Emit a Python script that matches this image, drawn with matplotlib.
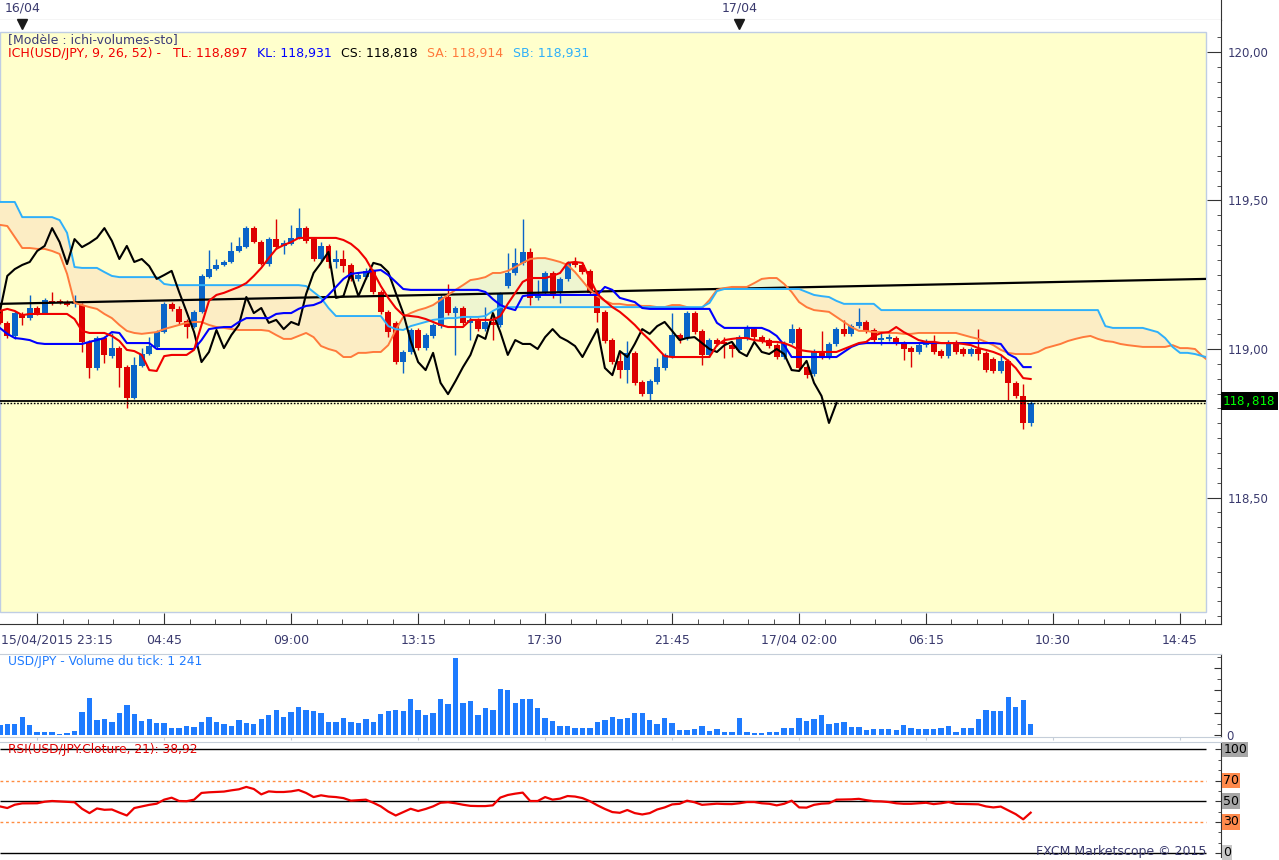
import numpy as np
import matplotlib
matplotlib.use("Agg")
import matplotlib.pyplot as plt
from matplotlib.patches import Rectangle
from matplotlib.transforms import blended_transform_factory as btf

plt.rcParams['font.family'] = ['DejaVu Sans']

W, H = 1279, 860
NAVY = '#3A3A6E'
AXC = '#333333'

# ---------------- data (15-min bars, index 0 = 15/04/2015 23:15) ----------------
time_ticks = [5, 22, 39, 56, 73, 90, 107, 124, 141, 158]
time_labels = ["", "04:45", "09:00", "13:15", "17:30", "21:45", "17/04 02:00", "06:15", "10:30", "14:45"]
first_time_label = "15/04/2015 23:15"
day_ticks = [3, 99]
day_labels = ["16/04", "17/04"]
price_ticks = [118.5, 119.0, 119.5, 120.0]
price_labels = ["118,50", "119,00", "119,50", "120,00"]

opens = [119.131, 119.088, 119.044, 119.118, 119.104, 119.138, 119.121, 119.162, 119.162, 119.158,
         119.152, 119.148, 119.024, 118.936, 119.037, 118.976, 119.003, 118.939, 118.835, 118.943,
         118.983, 119.007, 119.057, 119.152, 119.135, 119.094, 119.074, 119.125, 119.242, 119.269,
         119.283, 119.293, 119.330, 119.343, 119.407, 119.360, 119.286, 119.370, 119.347, 119.354,
         119.374, 119.407, 119.370, 119.303, 119.347, 119.293, 119.303, 119.283, 119.236, 119.242,
         119.263, 119.192, 119.125, 119.088, 118.956, 118.990, 119.064, 119.003, 119.044, 119.077,
         119.175, 119.121, 119.138, 119.088, 119.098, 119.067, 119.091, 119.081, 119.212, 119.256,
         119.290, 119.327, 119.172, 119.192, 119.256, 119.189, 119.236, 119.293, 119.283, 119.263,
         119.189, 119.125, 119.030, 118.960, 118.929, 118.987, 118.889, 118.848, 118.889, 118.936,
         118.976, 119.047, 119.037, 119.121, 119.061, 118.980, 119.030, 119.024, 119.013, 118.997,
         119.037, 119.067, 119.040, 119.030, 119.013, 118.973, 119.020, 119.067, 118.939, 118.916,
         118.993, 118.973, 119.017, 119.067, 119.051, 119.077, 119.091, 119.064, 119.030, 119.034,
         119.037, 119.020, 119.003, 118.990, 119.013, 119.020, 118.993, 118.976, 119.024, 119.000,
         118.983, 119.000, 118.987, 118.966, 118.926, 118.960, 118.886, 118.842, 118.751]
highs = [119.141, 119.094, 119.128, 119.125, 119.182, 119.145, 119.172, 119.192, 119.168, 119.165,
         119.182, 119.155, 119.030, 119.044, 119.044, 119.054, 119.010, 118.946, 118.973, 119.003,
         119.040, 119.064, 119.158, 119.158, 119.145, 119.101, 119.131, 119.253, 119.333, 119.303,
         119.300, 119.360, 119.377, 119.414, 119.414, 119.367, 119.377, 119.438, 119.367, 119.418,
         119.475, 119.414, 119.377, 119.360, 119.354, 119.333, 119.333, 119.290, 119.259, 119.273,
         119.269, 119.199, 119.131, 119.094, 118.997, 119.071, 119.071, 119.054, 119.088, 119.182,
         119.219, 119.145, 119.145, 119.108, 119.104, 119.141, 119.121, 119.192, 119.323, 119.340,
         119.438, 119.340, 119.232, 119.263, 119.263, 119.242, 119.296, 119.310, 119.290, 119.269,
         119.195, 119.131, 119.037, 118.990, 119.027, 118.993, 118.896, 118.899, 118.970, 118.987,
         119.121, 119.054, 119.128, 119.128, 119.067, 119.037, 119.037, 119.040, 119.024, 119.047,
         119.081, 119.074, 119.047, 119.037, 119.020, 119.027, 119.084, 119.074, 118.946, 119.000,
         119.061, 119.024, 119.074, 119.098, 119.084, 119.138, 119.098, 119.071, 119.057, 119.051,
         119.044, 119.027, 119.010, 119.020, 119.034, 119.047, 119.000, 119.030, 119.030, 119.007,
         119.007, 119.067, 118.993, 118.973, 118.980, 118.966, 118.892, 118.882, 118.825]
lows = [119.084, 119.037, 119.034, 119.081, 119.098, 119.114, 119.118, 119.148, 119.152, 119.145,
        119.141, 118.990, 118.902, 118.929, 118.953, 118.970, 118.872, 118.801, 118.832, 118.939,
        118.980, 119.003, 119.054, 119.128, 119.084, 119.037, 119.071, 119.121, 119.239, 119.266,
        119.279, 119.290, 119.327, 119.340, 119.357, 119.283, 119.279, 119.337, 119.320, 119.350,
        119.370, 119.357, 119.296, 119.296, 119.273, 119.273, 119.259, 119.229, 119.229, 119.236,
        119.185, 119.118, 119.040, 118.949, 118.919, 118.983, 118.997, 118.997, 119.037, 119.071,
        119.114, 118.980, 119.081, 119.030, 119.061, 119.061, 119.030, 119.074, 119.205, 119.249,
        119.283, 119.148, 119.165, 119.185, 119.172, 119.155, 119.229, 119.276, 119.253, 119.182,
        119.091, 119.020, 118.949, 118.902, 118.886, 118.879, 118.842, 118.828, 118.882, 118.929,
        118.970, 119.020, 119.030, 119.051, 118.946, 118.973, 119.010, 118.970, 118.973, 118.990,
        119.030, 119.034, 119.020, 119.003, 118.966, 118.966, 119.017, 118.929, 118.902, 118.909,
        118.966, 118.966, 119.010, 119.044, 119.044, 119.071, 119.054, 119.024, 119.013, 119.027,
        119.013, 118.963, 118.939, 118.983, 119.007, 118.983, 118.970, 118.970, 118.983, 118.976,
        118.976, 118.963, 118.923, 118.919, 118.919, 118.828, 118.835, 118.731, 118.741]
closes = [119.088, 119.044, 119.121, 119.104, 119.138, 119.121, 119.165, 119.155, 119.158, 119.148,
          119.158, 119.024, 118.936, 119.037, 118.980, 119.003, 118.936, 118.835, 118.946, 118.983,
          119.010, 119.057, 119.152, 119.135, 119.091, 119.074, 119.125, 119.246, 119.269, 119.283,
          119.293, 119.330, 119.347, 119.407, 119.360, 119.286, 119.370, 119.343, 119.357, 119.374,
          119.407, 119.364, 119.303, 119.347, 119.293, 119.303, 119.279, 119.236, 119.249, 119.263,
          119.192, 119.125, 119.057, 118.956, 118.990, 119.064, 119.003, 119.047, 119.081, 119.175,
          119.121, 119.138, 119.088, 119.098, 119.067, 119.091, 119.081, 119.185, 119.256, 119.290,
          119.327, 119.172, 119.178, 119.256, 119.178, 119.236, 119.290, 119.283, 119.259, 119.189,
          119.121, 119.027, 118.956, 118.929, 118.987, 118.886, 118.848, 118.892, 118.939, 118.980,
          119.047, 119.034, 119.121, 119.057, 118.980, 119.030, 119.017, 119.017, 119.000, 119.040,
          119.067, 119.040, 119.027, 119.010, 118.973, 119.020, 119.067, 118.936, 118.912, 118.993,
          118.973, 119.017, 119.067, 119.051, 119.077, 119.091, 119.061, 119.030, 119.037, 119.040,
          119.020, 119.000, 118.990, 119.013, 119.024, 118.990, 118.976, 119.024, 118.990, 118.983,
          119.000, 118.983, 118.929, 118.926, 118.960, 118.886, 118.842, 118.751, 118.818]

tenkan = [119.128, 119.135, 119.128, 119.114, 119.118, 119.118, 119.118, 119.118, 119.118, 119.118,
          119.101, 119.061, 119.054, 119.054, 119.054, 119.044, 119.027, 118.997, 118.993, 118.980,
          118.929, 118.926, 118.976, 118.980, 118.980, 118.980, 118.997, 119.081, 119.162, 119.182,
          119.189, 119.199, 119.209, 119.222, 119.246, 119.273, 119.306, 119.337, 119.350, 119.360,
          119.374, 119.374, 119.374, 119.374, 119.374, 119.374, 119.367, 119.354, 119.333, 119.303,
          119.259, 119.212, 119.172, 119.138, 119.114, 119.111, 119.108, 119.101, 119.091, 119.081,
          119.074, 119.074, 119.074, 119.098, 119.098, 119.098, 119.098, 119.111, 119.152, 119.189,
          119.226, 119.239, 119.239, 119.239, 119.246, 119.256, 119.290, 119.293, 119.290, 119.236,
          119.185, 119.162, 119.141, 119.125, 119.104, 119.081, 119.054, 119.030, 119.003, 118.976,
          118.973, 118.973, 118.973, 118.973, 118.973, 118.973, 119.013, 119.030, 119.034, 119.037,
          119.037, 119.030, 119.027, 119.024, 119.024, 119.020, 119.010, 118.997, 118.993, 118.990,
          118.990, 118.990, 118.990, 119.000, 119.010, 119.020, 119.024, 119.044, 119.054, 119.057,
          119.074, 119.057, 119.044, 119.030, 119.024, 119.024, 119.020, 119.020, 119.020, 119.017,
          119.013, 119.003, 118.997, 118.990, 118.980, 118.960, 118.936, 118.902, 118.899]
kijun = [119.071, 119.051, 119.037, 119.034, 119.030, 119.020, 119.017, 119.017, 119.017, 119.017,
         119.017, 119.017, 119.024, 119.030, 119.037, 119.057, 119.054, 119.020, 119.020, 119.020,
         119.020, 119.000, 119.000, 119.000, 119.000, 119.000, 119.000, 119.030, 119.067, 119.071,
         119.074, 119.074, 119.091, 119.104, 119.104, 119.104, 119.104, 119.118, 119.121, 119.121,
         119.135, 119.145, 119.148, 119.158, 119.182, 119.209, 119.236, 119.253, 119.256, 119.259,
         119.263, 119.266, 119.249, 119.226, 119.202, 119.199, 119.199, 119.199, 119.199, 119.199,
         119.199, 119.199, 119.199, 119.199, 119.199, 119.192, 119.168, 119.148, 119.138, 119.131,
         119.178, 119.182, 119.182, 119.182, 119.182, 119.182, 119.182, 119.182, 119.182, 119.182,
         119.182, 119.209, 119.199, 119.172, 119.165, 119.158, 119.138, 119.135, 119.135, 119.135,
         119.135, 119.135, 119.135, 119.135, 119.135, 119.135, 119.088, 119.071, 119.071, 119.071,
         119.071, 119.071, 119.071, 119.061, 119.044, 119.013, 118.973, 118.973, 118.973, 118.973,
         118.973, 118.973, 118.973, 118.990, 119.007, 119.017, 119.020, 119.020, 119.020, 119.020,
         119.020, 119.020, 119.020, 119.020, 119.020, 119.020, 119.020, 119.020, 119.020, 119.020,
         119.020, 119.020, 119.020, 119.020, 119.017, 118.983, 118.970, 118.939, 118.939]
senkou_a = [119.418, 119.414, 119.377, 119.340, 119.340, 119.337, 119.337, 119.330, 119.320, 119.253,
            119.155, 119.148, 119.141, 119.135, 119.118, 119.104, 119.081, 119.061, 119.054, 119.051,
            119.054, 119.057, 119.067, 119.074, 119.081, 119.088, 119.091, 119.091, 119.081, 119.074,
            119.071, 119.067, 119.064, 119.064, 119.064, 119.064, 119.061, 119.047, 119.034, 119.034,
            119.044, 119.054, 119.040, 119.010, 119.000, 118.993, 118.973, 118.973, 118.987, 118.987,
            118.990, 118.990, 119.013, 119.064, 119.108, 119.121, 119.131, 119.138, 119.148, 119.165,
            119.182, 119.199, 119.215, 119.232, 119.236, 119.242, 119.256, 119.256, 119.263, 119.276,
            119.290, 119.303, 119.306, 119.306, 119.300, 119.293, 119.283, 119.259, 119.229, 119.199,
            119.178, 119.162, 119.152, 119.152, 119.148, 119.148, 119.145, 119.145, 119.141, 119.141,
            119.148, 119.148, 119.141, 119.135, 119.138, 119.165, 119.199, 119.205, 119.209, 119.209,
            119.209, 119.222, 119.236, 119.239, 119.239, 119.219, 119.192, 119.158, 119.141, 119.131,
            119.128, 119.125, 119.108, 119.091, 119.074, 119.061, 119.061, 119.057, 119.057, 119.054,
            119.054, 119.051, 119.051, 119.054, 119.054, 119.054, 119.054, 119.054, 119.054, 119.047,
            119.040, 119.034, 119.024, 119.013, 118.997, 118.987, 118.983, 118.983, 118.983, 118.990,
            119.003, 119.010, 119.017, 119.027, 119.034, 119.040, 119.044, 119.034, 119.027, 119.024,
            119.017, 119.013, 119.010, 119.007, 119.007, 119.007, 119.007, 119.013, 119.003, 119.003,
            119.000, 118.976, 118.956]
senkou_b = [119.495, 119.495, 119.495, 119.444, 119.444, 119.444, 119.444, 119.444, 119.434, 119.391,
            119.276, 119.273, 119.273, 119.273, 119.259, 119.246, 119.242, 119.242, 119.242, 119.242,
            119.242, 119.242, 119.219, 119.215, 119.215, 119.215, 119.215, 119.215, 119.215, 119.215,
            119.215, 119.215, 119.215, 119.215, 119.215, 119.215, 119.215, 119.215, 119.215, 119.215,
            119.215, 119.212, 119.192, 119.172, 119.138, 119.111, 119.111, 119.111, 119.111, 119.111,
            119.111, 119.111, 119.077, 119.067, 119.064, 119.077, 119.084, 119.091, 119.098, 119.101,
            119.104, 119.104, 119.108, 119.108, 119.108, 119.111, 119.128, 119.141, 119.141, 119.141,
            119.141, 119.141, 119.141, 119.141, 119.141, 119.141, 119.141, 119.141, 119.141, 119.141,
            119.141, 119.141, 119.141, 119.141, 119.141, 119.141, 119.141, 119.141, 119.141, 119.141,
            119.141, 119.141, 119.141, 119.141, 119.141, 119.155, 119.195, 119.202, 119.202, 119.202,
            119.202, 119.202, 119.202, 119.202, 119.202, 119.202, 119.202, 119.202, 119.192, 119.182,
            119.178, 119.175, 119.162, 119.152, 119.152, 119.152, 119.152, 119.152, 119.131, 119.131,
            119.131, 119.131, 119.131, 119.131, 119.131, 119.131, 119.131, 119.131, 119.131, 119.131,
            119.131, 119.131, 119.131, 119.131, 119.131, 119.131, 119.131, 119.131, 119.131, 119.131,
            119.131, 119.131, 119.131, 119.131, 119.131, 119.131, 119.131, 119.131, 119.077, 119.071,
            119.071, 119.071, 119.071, 119.071, 119.064, 119.057, 119.037, 119.007, 118.987, 118.987,
            118.983, 118.976, 118.970]
chikou_shift = 26
trend_x = [0.0, 161.5]
trend_y = [119.152, 119.236]
last_price = 118.818
guide_price = 118.824

volumes = [1090, 1200, 1200, 2030, 1130, 340, 340, 340, 150, 260,
           450, 2520, 4170, 1650, 1800, 1500, 2480, 3380, 2330, 1580,
           1800, 1350, 1350, 750, 830, 1020, 940, 1500, 2030, 1500,
           1200, 1050, 1730, 1320, 1280, 1770, 2180, 2820, 1960, 2520,
           3080, 2780, 2710, 2410, 1470, 1470, 1920, 1470, 1390, 1840,
           1500, 2370, 2630, 2820, 2630, 4060, 2820, 2220, 2480, 4060,
           3420, 8610, 3610, 3840, 2220, 3050, 2780, 5150, 5080, 3610,
           4060, 3990, 2970, 1920, 1580, 1050, 1050, 830, 830, 830,
           1500, 1690, 2030, 1800, 1920, 2410, 2410, 1650, 1200, 1920,
           1390, 530, 560, 710, 980, 410, 640, 300, 340, 1920,
           340, 190, 190, 380, 340, 790, 830, 1920, 1540, 1770,
           2220, 1280, 1320, 1470, 900, 900, 560, 640, 710, 710,
           530, 1130, 750, 710, 640, 710, 790, 980, 340, 750,
           750, 1800, 2820, 2710, 2630, 4290, 3080, 3950, 1241]

rsi = [45, 43.4, 46.6, 47.9, 48, 48, 49.5, 50.2, 49.8, 49.5,
       49, 42.7, 38.5, 43, 41.7, 42, 39, 36.2, 43.4, 45,
       46.5, 47.6, 51.5, 53.4, 50.2, 50, 51.5, 58, 58.6, 58.9,
       59.3, 60.5, 61.5, 63.8, 61.8, 56.6, 59.5, 58.9, 58.9, 59.5,
       60.8, 58, 54, 55.7, 54.5, 54, 53, 50.5, 51, 51.5,
       48.5, 45, 40, 36.2, 39.5, 42.7, 40.5, 42.5, 45, 48.5,
       49, 48, 46.6, 45.5, 45.3, 45.3, 46, 53.5, 56, 57.3,
       58.3, 50.2, 50.2, 54, 51.5, 52.5, 55, 54.5, 53, 50,
       46, 42.5, 39.5, 38.8, 41.5, 38.5, 37.2, 38.5, 42, 44,
       46.9, 47.5, 50.5, 49, 46.5, 47, 47.6, 47.3, 47.2, 48,
       49.2, 49.2, 48, 47.5, 46, 47.5, 50.5, 44, 43.8, 46.5,
       47.6, 48, 51.5, 51.7, 51.8, 52.3, 51, 50, 49.8, 49.2,
       48, 47.5, 47.5, 48, 48.5, 47.2, 48, 49.2, 47.5, 47.3,
       47.2, 47, 45, 44, 44.8, 41.1, 37.5, 32.5, 38.92]
rsi_levels = [100, 70, 50, 30, 0]

# ---------------- layout ----------------
fig = plt.figure(figsize=(W / 100, H / 100), dpi=100, facecolor='white')


def px(x0, y0, x1, y1):
    return [x0 / W, 1 - y1 / H, (x1 - x0) / W, (y1 - y0) / H]


def ftext(x, y, s, **kw):
    fig.text(x / W, 1 - y / H, s, **kw)


XLIM = (0.023, 163.48)
X_END = 161.47
PRICE_LIM = (118.0741, 120.1077)
PRICE_TOP = 120.0673
PRICE_BOT = 118.1145

idx = np.arange(len(closes))
o = np.array(opens); hi = np.array(highs); lo = np.array(lows); c = np.array(closes)

# ---- top date strip ----
axt = fig.add_axes(px(0, 0, 1221, 20))
axt.set_xlim(XLIM); axt.set_ylim(0, 1)
axt.set_facecolor('none')
for s in ['top', 'left']:
    axt.spines[s].set_visible(False)
axt.spines['bottom'].set_color('#555555')
axt.spines['right'].set_color(AXC)
axt.set_yticks([])
axt.set_xticks(np.arange(3, 162, 12))
axt.tick_params(axis='x', direction='out', length=3, color='#555555', labelbottom=False)
for d, lab in zip(day_ticks, day_labels):
    axt.text(d, 0.6, lab, ha='center', va='center', fontsize=9, color=NAVY)

# ---- price panel ----
ax = fig.add_axes(px(0, 20, 1221, 624))
ax.set_xlim(XLIM); ax.set_ylim(PRICE_LIM)
ax.set_facecolor('white')
bg = Rectangle((XLIM[0], PRICE_BOT), X_END - XLIM[0], PRICE_TOP - PRICE_BOT,
               facecolor='#FFFFCC', edgecolor='#BFCDE4', lw=1, zorder=0)
ax.add_patch(bg)

# day markers (triangles hanging under the date strip)
ax.plot(day_ticks, [0.9934] * len(day_ticks), ls='none', marker='v', markersize=6.5,
        color='#1a1a1a', transform=btf(ax.transData, ax.transAxes), clip_on=False, zorder=6)

sa = np.array(senkou_a); sb = np.array(senkou_b)
cidx = np.arange(len(sa))
f1 = ax.fill_between(cidx, sa, sb, where=sa >= sb, interpolate=True, color='#EEF5D0', lw=0, zorder=1)
f2 = ax.fill_between(cidx, sa, sb, where=sa < sb, interpolate=True, color='#FCEDC4', lw=0, zorder=1)
for f in (f1, f2):
    f.set_clip_path(bg)

up = c >= o
cols = np.where(up, '#0A64C8', '#DD0000')
wk = ax.vlines(idx, lo, hi, colors=cols, lw=1, zorder=3)
wk.set_clip_path(bg)
bodies = ax.bar(idx, np.maximum(np.abs(c - o), 0.0028), bottom=np.minimum(o, c),
                width=0.8, color=cols, lw=0, zorder=3.1)
for b in bodies:
    b.set_clip_path(bg)

lines = []
lines += ax.plot(trend_x, trend_y, color='black', lw=1.6, zorder=3.5)
lines += ax.plot(cidx, sa, color='#FF7A3C', lw=1.4, zorder=4)
lines += ax.plot(cidx, sb, color='#2FB0FA', lw=1.4, zorder=4)
lines += ax.plot(idx, kijun, color='#0000FF', lw=1.5, zorder=4.2)
lines += ax.plot(idx, tenkan, color='#F00000', lw=1.5, zorder=4.3)
ch_x = idx[chikou_shift - 1:] - chikou_shift
ch_y = c[chikou_shift - 1:]
lines += ax.plot(ch_x, ch_y, color='black', lw=1.5, zorder=4.1)
for ln in lines:
    ln.set_clip_path(bg)
ax.hlines(guide_price, XLIM[0], X_END, colors='black', lw=1.3, zorder=4.5)
ax.hlines(last_price, XLIM[0], X_END, colors='black', lw=1.0, linestyles=(0, (1.2, 1.2)), zorder=4.5)

for s in ['top', 'left']:
    ax.spines[s].set_visible(False)
for s in ['right', 'bottom']:
    ax.spines[s].set_color(AXC)
ax.yaxis.tick_right()
ax.set_yticks(price_ticks)
ax.set_yticklabels(price_labels)
ax.set_yticks(np.arange(118.1, 120.06, 0.05), minor=True)
ax.tick_params(axis='y', which='major', direction='in', length=10, color=AXC, pad=4.5,
               labelsize=8.5, labelcolor=NAVY, right=True, left=False)
ax.tick_params(axis='y', which='minor', direction='in', length=3.2, color=AXC, right=True, left=False)
ax.set_xticks(time_ticks)
ax.set_xticklabels(time_labels)
minor_x = [5 + 3.4 * k for k in range(0, 47) if (k % 5) != 0 and 5 + 3.4 * k < 163]
ax.set_xticks(minor_x, minor=True)
ax.tick_params(axis='x', which='major', direction='in', length=8.2, color=AXC, pad=7,
               labelsize=9, labelcolor=NAVY)
ax.tick_params(axis='x', which='minor', direction='in', length=3.4, color=AXC)
ftext(1, 640, first_time_label, fontsize=9, color=NAVY, ha='left', va='center')

# header
ftext(8, 40, "[Modèle : ichi-volumes-sto]", fontsize=9, color='#3C3C78', va='center')
hdr = [(8, "ICH(USD/JPY, 9, 26, 52) -", '#F00000'),
       (173, "TL: 118,897", '#F00000'),
       (257, "KL: 118,931", '#0000FF'),
       (341, "CS: 118,818", '#000000'),
       (427, "SA: 118,914", '#FF7A3C'),
       (513, "SB: 118,931", '#2FB0FA')]
for x, s, col in hdr:
    ftext(x, 54, s, fontsize=9, color=col, va='center')

ftext(1223, 401, "118,818", fontsize=9, color='#00FF00', family='DejaVu Sans Mono',
      ha='left', va='center', bbox=dict(boxstyle='square,pad=0.18', fc='black', ec='none'))

# ---- volume panel ----
axv = fig.add_axes(px(0, 654, 1221, 737))
axv.set_xlim(XLIM); axv.set_ylim(-223, 9046)
axv.bar(idx, volumes, width=0.72, color='#1E7BFF', lw=0)
axv.spines['left'].set_visible(False)
axv.spines['top'].set_color('#C5CED9')
axv.spines['bottom'].set_color('#C5CED9')
axv.spines['right'].set_color(AXC)
axv.yaxis.tick_right()
axv.set_yticks([0, 2500, 5000, 7500])
axv.set_yticklabels(['0', '', '', ''])
axv.set_yticks(np.arange(1250, 9000, 2500), minor=True)
axv.tick_params(axis='y', which='major', direction='in', length=5, color=AXC, pad=4,
                labelsize=8.5, labelcolor=NAVY, right=True, left=False)
axv.tick_params(axis='y', which='minor', direction='in', length=3, color=AXC, right=True, left=False)
axv.set_xticks(time_ticks)
axv.tick_params(axis='x', direction='out', length=2, color='#C5CED9', labelbottom=False)
ftext(8, 661, "USD/JPY - Volume du tick: 1 241", fontsize=8.8, color='#1E7BFF', va='center')

# ---- RSI panel ----
axr = fig.add_axes(px(0, 742, 1221, 857))
axr.set_xlim(XLIM); axr.set_ylim(-3.9, 107.2)
axr.hlines([100, 50, 0], XLIM[0], X_END, colors='black', lw=1)
axr.hlines([70, 30], XLIM[0], X_END, colors='#FF8C40', lw=1, linestyles=(0, (2, 2)))
axr.plot(idx, rsi, color='#EE0000', lw=1.6)
axr.spines['left'].set_visible(False)
axr.spines['bottom'].set_visible(False)
axr.spines['top'].set_color('#C5CED9')
axr.spines['right'].set_color(AXC)
axr.yaxis.tick_right()
axr.set_yticks(rsi_levels)
axr.set_yticklabels([])
axr.set_yticks([10, 20, 40, 60, 80, 90], minor=True)
axr.tick_params(axis='y', which='major', direction='in', length=4, color=AXC, right=True, left=False)
axr.tick_params(axis='y', which='minor', direction='in', length=2.5, color=AXC, right=True, left=False)
axr.set_xticks([])
tr = btf(axr.transAxes, axr.transData)
box_cols = {100: '#A6A6A6', 70: '#FF8A4C', 50: '#A6A6A6', 30: '#FF8A4C', 0: '#C8C8C8'}
for lv in rsi_levels:
    axr.text(1.0018, lv, str(lv), transform=tr, ha='left', va='center', fontsize=9, color='black',
             bbox=dict(boxstyle='square,pad=0.1', fc=box_cols[lv], ec='none'))
ftext(8, 750, "RSI(USD/JPY.Cloture, 21): 38,92", fontsize=8.8, color='#E00000', va='center')
ftext(1206, 851, "FXCM Marketscope © 2015", fontsize=9, color=NAVY, ha='right', va='center')

fig.savefig('out.png', dpi=100, facecolor='white')
